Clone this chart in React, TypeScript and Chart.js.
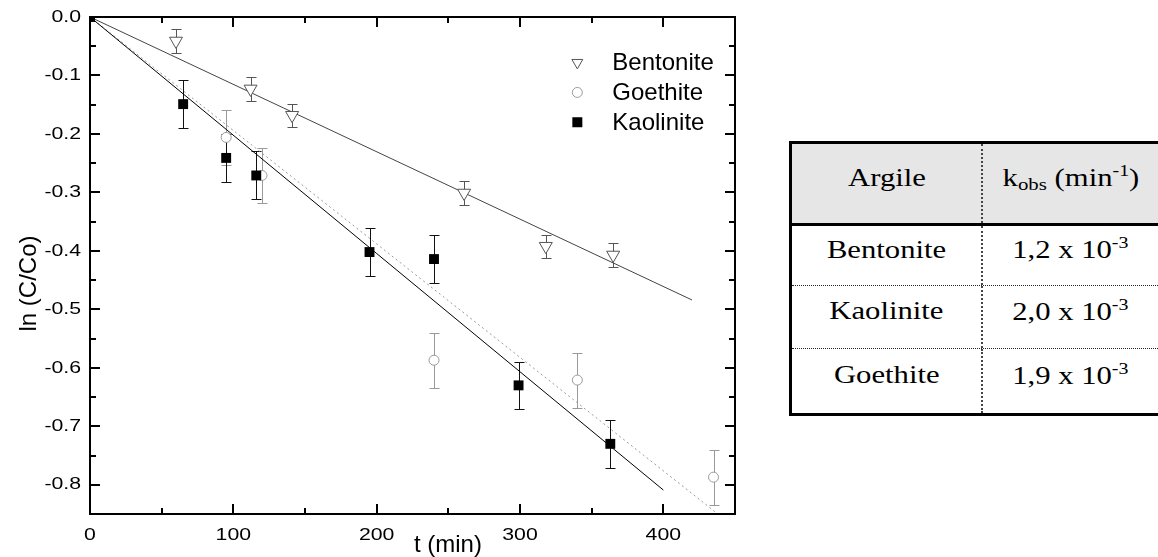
import React, { useEffect, useRef } from 'react';
import { Chart, registerables } from 'chart.js';

Chart.register(...registerables);

// ---- data ----
const bentoniteT = [60, 112, 141, 261, 318, 365];
const bentoniteV = [-0.041, -0.123, -0.168, -0.301, -0.392, -0.407];
const bentoniteErr = [0.02, 0.02, 0.02, 0.02, 0.02, 0.02];

const goethiteT = [95, 120, 240, 340, 435];
const goethiteV = [-0.206, -0.271, -0.587, -0.621, -0.787];
const goethiteErr = [0.047, 0.047, 0.047, 0.047, 0.047];

const kaoliniteT = [0, 65, 95, 116, 195, 240, 299, 363];
const kaoliniteV = [0, -0.149, -0.241, -0.271, -0.402, -0.414, -0.63, -0.73];
const kaoliniteErr = [0, 0.041, 0.041, 0.041, 0.041, 0.041, 0.04, 0.041];

const bentoniteFitT = [0, 420];
const bentoniteFitV = [0, -0.484];
const goethiteFitT = [0, 437];
const goethiteFitV = [0, -0.848];
const kaoliniteFitT = [0, 400];
const kaoliniteFitV = [0, -0.809];

const xMajorTicks = [0, 100, 200, 300, 400];
const xMinorTicks = [50, 150, 250, 350, 450];
const xTickLabels = ['0', '100', '200', '300', '400'];
const yMajorTicks = [0, -0.1, -0.2, -0.3, -0.4, -0.5, -0.6, -0.7, -0.8];
const yMinorTicks = [-0.05, -0.15, -0.25, -0.35, -0.45, -0.55, -0.65, -0.75, -0.85];
const yTickLabels = ['0.0', '-0.1', '-0.2', '-0.3', '-0.4', '-0.5', '-0.6', '-0.7', '-0.8'];

const legendLabels = ['Bentonite', 'Goethite', 'Kaolinite'];
const xTitle = 't (min)';
const yTitle = 'ln (C/Co)';

const tableHeader = ['Argile', 'kobs'];
const tableClays = ['Bentonite', 'Kaolinite', 'Goethite'];
const tableK = ['1,2', '2,0', '1,9'];
const tableExp = ['-3', '-3', '-3'];

const toPts = (xs: number[], ys: number[]) => xs.map((x, i) => ({ x, y: ys[i] }));

const BENT_COLOR = '#555555';
const GOE_COLOR = '#9a9a9a';
const KAO_COLOR = '#000000';

const errorSets = [
  { t: goethiteT, v: goethiteV, e: goethiteErr, color: GOE_COLOR },
  { t: bentoniteT, v: bentoniteV, e: bentoniteErr, color: BENT_COLOR },
  { t: kaoliniteT, v: kaoliniteV, e: kaoliniteErr, color: '#111111' },
];

const errorBarPlugin = {
  id: 'errorBars',
  beforeDatasetsDraw(chart: any) {
    const { ctx, scales } = chart;
    const xs = scales.x;
    const ys = scales.y;
    ctx.save();
    ctx.lineWidth = 1;
    errorSets.forEach((s) => {
      ctx.strokeStyle = s.color;
      s.t.forEach((t, i) => {
        if (!s.e[i]) return;
        const px = Math.round(xs.getPixelForValue(t)) + 0.5;
        const y1 = Math.round(ys.getPixelForValue(s.v[i] + s.e[i])) + 0.5;
        const y2 = Math.round(ys.getPixelForValue(s.v[i] - s.e[i])) + 0.5;
        ctx.beginPath();
        ctx.moveTo(px, y1);
        ctx.lineTo(px, y2);
        ctx.moveTo(px - 5, y1);
        ctx.lineTo(px + 5, y1);
        ctx.moveTo(px - 5, y2);
        ctx.lineTo(px + 5, y2);
        ctx.stroke();
      });
    });
    ctx.restore();
  },
};

function drawStretchedText(ctx: any, text: string, x: number, y: number, sx: number) {
  ctx.save();
  ctx.translate(x, y);
  ctx.scale(sx, 1);
  ctx.fillText(text, 0, 0);
  ctx.restore();
}

const framePlugin = {
  id: 'frame',
  afterDraw(chart: any) {
    const { ctx, chartArea, scales } = chart;
    const { left, right, top, bottom } = chartArea;
    const xs = scales.x;
    const ys = scales.y;
    ctx.save();
    ctx.strokeStyle = '#000';
    ctx.lineWidth = 2;
    ctx.strokeRect(left, top, right - left, bottom - top);

    ctx.lineWidth = 2;
    const tickX = (vals: number[], len: number) => {
      vals.forEach((v) => {
        const px = Math.round(xs.getPixelForValue(v));
        ctx.beginPath();
        ctx.moveTo(px, bottom);
        ctx.lineTo(px, bottom - len);
        ctx.moveTo(px, top);
        ctx.lineTo(px, top + len);
        ctx.stroke();
      });
    };
    const tickY = (vals: number[], len: number) => {
      vals.forEach((v) => {
        const py = Math.round(ys.getPixelForValue(v));
        ctx.beginPath();
        ctx.moveTo(left, py);
        ctx.lineTo(left + len, py);
        ctx.moveTo(right, py);
        ctx.lineTo(right - len, py);
        ctx.stroke();
      });
    };
    tickX(xMajorTicks, 10);
    tickX(xMinorTicks, 6);
    tickY(yMajorTicks, 10);
    tickY(yMinorTicks, 6);

    ctx.fillStyle = '#000';
    ctx.font = '17px "Liberation Sans", Arial, sans-serif';
    ctx.textBaseline = 'middle';
    ctx.textAlign = 'center';
    xMajorTicks.forEach((v, i) => {
      drawStretchedText(ctx, xTickLabels[i], xs.getPixelForValue(v), bottom + 21, 1.25);
    });
    ctx.textAlign = 'right';
    yMajorTicks.forEach((v, i) => {
      drawStretchedText(ctx, yTickLabels[i], left - 9, ys.getPixelForValue(v), 1.25);
    });

    // axis titles
    ctx.font = '24px "Liberation Sans", Arial, sans-serif';
    ctx.textAlign = 'left';
    ctx.textBaseline = 'alphabetic';
    ctx.fillText(xTitle, xs.getPixelForValue(226), bottom + 38);

    ctx.save();
    ctx.translate(left - 61, (top + bottom) / 2 + 18);
    ctx.rotate(-Math.PI / 2);
    ctx.textAlign = 'center';
    ctx.textBaseline = 'middle';
    ctx.fillText(yTitle, 0, 0);
    ctx.restore();

    // legend
    const lx = xs.getPixelForValue(340);
    const rows = [ys.getPixelForValue(-0.078), ys.getPixelForValue(-0.129), ys.getPixelForValue(-0.18)];
    ctx.lineWidth = 1;
    ctx.strokeStyle = BENT_COLOR;
    ctx.fillStyle = '#fff';
    const r = 6.3;
    ctx.beginPath();
    for (let k = 0; k < 3; k++) {
      const a = Math.PI + (k * 2 * Math.PI) / 3;
      const px = lx + Math.sin(a) * r;
      const py = rows[0] - Math.cos(a) * r;
      if (k === 0) ctx.moveTo(px, py);
      else ctx.lineTo(px, py);
    }
    ctx.closePath();
    ctx.fill();
    ctx.stroke();
    ctx.strokeStyle = GOE_COLOR;
    ctx.beginPath();
    ctx.arc(lx, rows[1], 5, 0, Math.PI * 2);
    ctx.fill();
    ctx.stroke();
    ctx.fillStyle = KAO_COLOR;
    ctx.fillRect(lx - 5, rows[2] - 5, 10, 10);

    ctx.fillStyle = '#000';
    ctx.font = '24px "Liberation Sans", Arial, sans-serif';
    ctx.textAlign = 'left';
    ctx.textBaseline = 'middle';
    legendLabels.forEach((lab, i) => {
      ctx.fillText(lab, lx + 35, rows[i] + 1);
    });
    ctx.restore();
  },
};

function KTable() {
  const font: React.CSSProperties = {
    fontFamily: '"Liberation Serif", "Times New Roman", serif',
    fontSize: 26,
    color: '#000',
    display: 'inline-block',
    transform: 'scaleX(1.18)',
    whiteSpace: 'nowrap',
    position: 'relative',
  };
  const col1: React.CSSProperties = {
    width: 191,
    display: 'flex',
    alignItems: 'center',
    justifyContent: 'center',
    borderRight: '2px dotted #444',
    boxSizing: 'border-box',
    height: '100%',
  };
  const col2: React.CSSProperties = {
    flex: 1,
    display: 'flex',
    alignItems: 'center',
    justifyContent: 'center',
    height: '100%',
  };
  const rowHeights = [60, 63, 64];
  return (
    <div
      style={{
        position: 'absolute',
        left: 789,
        top: 141,
        width: 369,
        borderLeft: '3px solid #000',
        borderTop: '3px solid #000',
        borderBottom: '3px solid #000',
        boxSizing: 'border-box',
        background: '#fff',
      }}
    >
      <div style={{ height: 79, background: '#e6e6e6', borderBottom: '3px solid #000', display: 'flex' }}>
        <div style={col1}>
          <span style={{ ...font, top: -6 }}>{tableHeader[0]}</span>
        </div>
        <div style={col2}>
          <span style={{ ...font, top: -6 }}>
            k<sub style={{ fontSize: '0.68em', verticalAlign: '-0.2em' }}>obs</sub> (min
            <sup style={{ fontSize: '0.65em', verticalAlign: '0.6em' }}>-1</sup>)
          </span>
        </div>
      </div>
      {tableClays.map((c, i) => (
        <div
          key={c}
          style={{
            height: rowHeights[i],
            display: 'flex',
            borderBottom: i < tableClays.length - 1 ? '1px dotted #222' : 'none',
            boxSizing: 'border-box',
          }}
        >
          <div style={col1}>
            <span style={{ ...font, top: -6 }}>{c}</span>
          </div>
          <div style={col2}>
            <span style={{ ...font, top: -6 }}>
              {tableK[i]} x 10
              <sup style={{ fontSize: '0.65em', verticalAlign: '0.6em' }}>{tableExp[i]}</sup>
            </span>
          </div>
        </div>
      ))}
    </div>
  );
}

export default function App() {
  const ref = useRef<HTMLCanvasElement>(null);
  useEffect(() => {
    if (!ref.current) return;
    const chart = new Chart(ref.current, {
      type: 'scatter',
      data: {
        datasets: [
          {
            type: 'line',
            label: 'Bentonite fit',
            data: toPts(bentoniteFitT, bentoniteFitV),
            borderColor: '#444',
            borderWidth: 1,
            pointRadius: 0,
            fill: false,
            order: 10,
          } as any,
          {
            type: 'line',
            label: 'Goethite fit',
            data: toPts(goethiteFitT, goethiteFitV),
            borderColor: '#999',
            borderWidth: 1,
            borderDash: [2, 3],
            pointRadius: 0,
            fill: false,
            order: 11,
          } as any,
          {
            type: 'line',
            label: 'Kaolinite fit',
            data: toPts(kaoliniteFitT, kaoliniteFitV),
            borderColor: '#000',
            borderWidth: 1,
            pointRadius: 0,
            fill: false,
            order: 9,
          } as any,
          {
            label: 'Goethite',
            data: toPts(goethiteT, goethiteV),
            pointStyle: 'circle',
            pointRadius: 5,
            pointBackgroundColor: '#fff',
            pointBorderColor: GOE_COLOR,
            pointBorderWidth: 1,
            showLine: false,
            order: 3,
          } as any,
          {
            label: 'Bentonite',
            data: toPts(bentoniteT, bentoniteV),
            pointStyle: 'triangle',
            rotation: 180,
            pointRadius: 7.5,
            pointBackgroundColor: '#fff',
            pointBorderColor: BENT_COLOR,
            pointBorderWidth: 1,
            showLine: false,
            order: 2,
          } as any,
          {
            label: 'Kaolinite',
            data: toPts(kaoliniteT, kaoliniteV),
            pointStyle: 'rect',
            pointRadius: 7,
            pointBackgroundColor: KAO_COLOR,
            pointBorderColor: KAO_COLOR,
            pointBorderWidth: 0,
            showLine: false,
            order: 1,
          } as any,
        ],
      },
      options: {
        responsive: false,
        animation: false,
        layout: { padding: { left: 90, top: 17, right: 25, bottom: 43 } },
        scales: {
          x: { type: 'linear', display: false, min: 0, max: 450 },
          y: { type: 'linear', display: false, min: -0.85, max: 0 },
        },
        plugins: {
          legend: { display: false },
          tooltip: { enabled: false },
        },
      },
      plugins: [errorBarPlugin, framePlugin],
    });
    return () => chart.destroy();
  }, []);

  return (
    <div
      style={{
        position: 'fixed',
        left: 0,
        top: 0,
        width: 1158,
        height: 557,
        background: '#fff',
        overflow: 'hidden',
      }}
    >
      <canvas
        ref={ref}
        width={760}
        height={557}
        style={{ position: 'absolute', left: 0, top: 0, width: 760, height: 557 }}
      />
      <KTable />
    </div>
  );
}
